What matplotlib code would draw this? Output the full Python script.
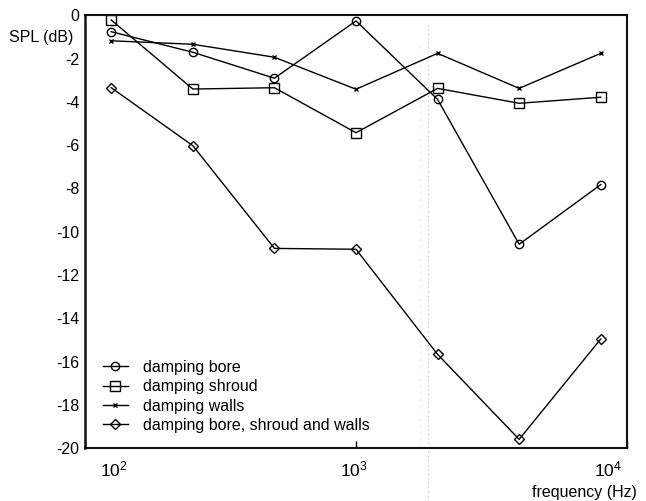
import matplotlib
matplotlib.use("Agg")
import matplotlib.pyplot as plt
from matplotlib.lines import Line2D
from matplotlib.transforms import ScaledTranslation

plt.rcParams['font.family'] = ['Liberation Sans', 'DejaVu Sans']
plt.rcParams['mathtext.fontset'] = 'custom'
plt.rcParams['mathtext.rm'] = 'Liberation Sans'
plt.rcParams['mathtext.it'] = 'Liberation Sans:italic'

# Octave-band centre frequencies (Hz)
freq = [125, 250, 500, 1000, 2000, 4000, 8000]

# SPL change per band (dB)
bore = [-0.75, -1.70, -2.90, -0.25, -3.88, -10.58, -7.82]
shroud = [-0.21, -3.40, -3.34, -5.42, -3.37, -4.06, -3.78]
walls = [-1.17, -1.33, -1.93, -3.41, -1.75, -3.37, -1.75]
combined = [-3.34, -6.02, -10.77, -10.81, -15.67, -19.60, -14.96]

labels = ["damping bore", "damping shroud", "damping walls",
          "damping bore, shroud and walls"]

x_ticks = [100, 1000, 10000]
x_tick_labels = [r'$\mathregular{10^{2}}$', r'$\mathregular{10^{3}}$',
                 r'$\mathregular{10^{4}}$']
y_ticks = list(range(0, -21, -2))

fig = plt.figure(figsize=(6.46, 5.01), dpi=100)
ax = fig.add_axes([85 / 646, 1 - 448 / 501, (627 - 85) / 646, (448 - 15.5) / 501])
ax.set_facecolor('none')

common = dict(color='black', lw=1.0, mfc='none', mec='black', mew=1.0)
ax.plot(freq, bore, marker='o', ms=6, label=labels[0], **common)
ax.plot(freq, shroud, marker='s', ms=7, label=labels[1], **common)
ax.plot(freq, walls, marker='x', ms=3.5, label=labels[2], **common)
ax.plot(freq, combined, marker='D', ms=5.2, label=labels[3], **common)

ax.set_xscale('log')
ax.set_xlim(100, 10000)
ax.set_ylim(-20, 0)
ax.set_xticks(x_ticks)
ax.set_xticklabels(x_tick_labels)
ax.minorticks_off()
ax.set_yticks(y_ticks)
ax.set_yticklabels([str(v) for v in y_ticks])

ax.tick_params(axis='x', direction='in', length=5, width=1.0, pad=8,
               labelsize=12.5)
ax.tick_params(axis='y', direction='in', length=0, pad=4, labelsize=11.5)

# shift the end labels of the frequency axis inwards
shifts = [28.5, -2, -19]
for lab, dx in zip(ax.get_xticklabels(), shifts):
    lab.set_transform(lab.get_transform() +
                      ScaledTranslation(dx / 100, 0, fig.dpi_scale_trans))

for side, sp in ax.spines.items():
    sp.set_linewidth(1.8 if side == 'left' else 1.5)
    sp.set_color('#111111')

leg = ax.legend(loc='lower left', frameon=False, fontsize=11.5,
                handlelength=1.55, handletextpad=0.95, labelspacing=0.27,
                borderaxespad=0.0, bbox_to_anchor=(0.021, 0.02))

fig.text(73 / 646, 1 - 37.5 / 501, "SPL (dB)", ha='right', va='center',
         fontsize=11.5)
fig.text(637 / 646, 1 - 493 / 501, "frequency (Hz)", ha='right', va='center',
         fontsize=11.5)

# faint dotted vertical rules across the sheet
fig.add_artist(Line2D([428 / 646, 428 / 646], [0, 1 - 22 / 501],
                      transform=fig.transFigure, color='#bdbdbd', lw=0.8,
                      ls=(0, (1, 3)), zorder=0))
fig.add_artist(Line2D([420 / 646, 420 / 646], [1 - 440 / 501, 1 - 40 / 501],
                      transform=fig.transFigure, color='#d4d4d4', lw=0.8,
                      ls=(0, (1, 5)), zorder=0))

fig.savefig("out.png", dpi=100)
